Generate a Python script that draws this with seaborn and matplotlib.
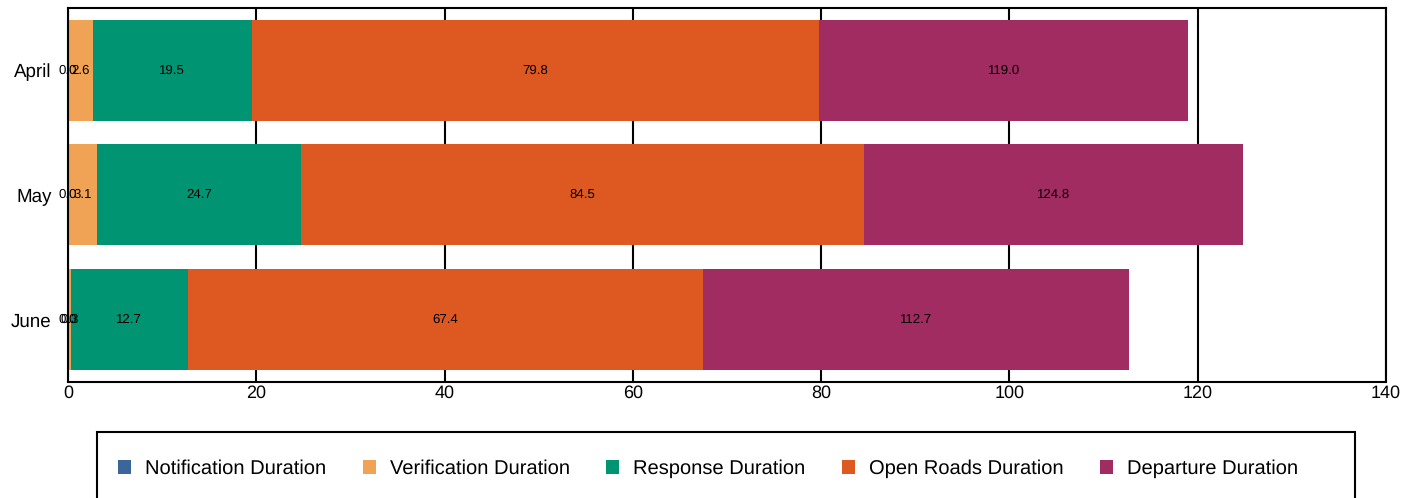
import pandas as pd
import seaborn as sns
import matplotlib.pyplot as plt
from matplotlib.patches import Rectangle

# Donnees (valeurs cumulees)
months = ['April', 'May', 'June']
series = ['Notification Duration', 'Verification Duration', 'Response Duration',
          'Open Roads Duration', 'Departure Duration']
notification = [0.0, 0.0, 0.0]
verification = [2.6, 3.1, 0.3]
response = [19.5, 24.7, 12.7]
open_roads = [79.8, 84.5, 67.4]
departure = [119.0, 124.8, 112.7]
colors = ['#3B6699', '#F0A354', '#009473', '#DD5921', '#A12C61']

values = [notification, verification, response, open_roads, departure]
rows = []
for s, vals in zip(series, values):
    for m, v in zip(months, vals):
        rows.append({'month': m, 'series': s, 'value': v})
df = pd.DataFrame(rows)

sns.set_style('white')
plt.rcParams['font.family'] = ['Liberation Sans', 'DejaVu Sans']
plt.rcParams['text.hinting'] = 'no_hinting'
plt.rcParams['text.color'] = 'black'

fig, ax = plt.subplots(figsize=(14.18, 4.98), dpi=100)
fig.subplots_adjust(left=0.048, right=0.9774, top=0.984, bottom=0.233)

# barres superposees : la plus longue d'abord
for s, c in reversed(list(zip(series, colors))):
    sub = df[df['series'] == s]
    sns.barplot(data=sub, x='value', y='month', order=months, color=c,
                width=0.81, orient='h', ax=ax, label=s, saturation=1,
                linewidth=0, edgecolor='none')

# etiquettes au centre de chaque segment
for i, m in enumerate(months):
    prev = 0.0
    for vals in values:
        v = vals[i]
        ax.text((prev + v) / 2, i, f'{v:.1f}', ha='center', va='center',
                fontsize=9.5, color='black')
        prev = v

ax.set_xlim(0, 140)
ax.set_ylim(2.5, -0.5)
ax.set_xticks(range(0, 141, 20))
ax.set_xlabel('')
ax.set_ylabel('')
ax.grid(axis='x', color='black', lw=1.5)
ax.set_axisbelow(True)
for sp in ax.spines.values():
    sp.set_color('black')
    sp.set_linewidth(1.5)
ax.tick_params(axis='x', length=0, pad=2, labelsize=13, colors='black')
ax.tick_params(axis='y', length=0, pad=12, labelsize=13.5, colors='black')

handles, labels = ax.get_legend_handles_labels()
order = [labels.index(s) for s in series]
if ax.legend_:
    ax.legend_.remove()

# cadre de la legende (depasse le bas de la figure)
fig.patches.append(Rectangle((97 / 1418, -0.05), (1355 - 97) / 1418,
                             1 - 432 / 498 + 0.05, transform=fig.transFigure,
                             fill=False, edgecolor='black', lw=1.5))
leg = fig.legend([handles[k] for k in order], [labels[k] for k in order],
                 loc='center left', bbox_to_anchor=(118 / 1418, 1 - 469 / 498),
                 ncol=5, fontsize=14.5, frameon=False,
                 handlelength=0.65, handleheight=0.65, handletextpad=0.7,
                 columnspacing=1.8, borderpad=0, borderaxespad=0)
for t in leg.get_texts():
    t.set_color('black')

plt.savefig('out.png', dpi=100)
